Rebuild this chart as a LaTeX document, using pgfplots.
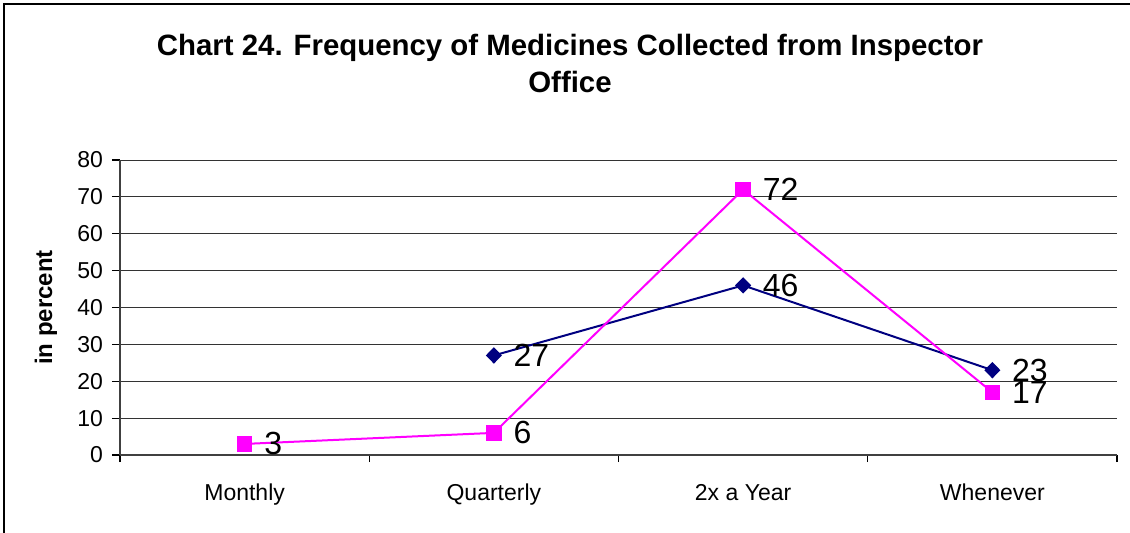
\documentclass[border=0pt]{standalone}
\usepackage{pgfplots}
\pgfplotsset{compat=1.18}
\usepackage{fontspec}
\setmainfont{Liberation Sans}
\definecolor{navyline}{HTML}{000080}
\definecolor{pinkline}{HTML}{FF00FF}

\begin{document}
\begin{tikzpicture}
\path[use as bounding box] (-60bp,-39bp) rectangle (505bp,227.5bp);
\draw[line width=0.9bp] (-58bp,-39bp) -- (-58bp,225.5bp) -- (505bp,225.5bp);
\begin{axis}[
  at={(0,0)}, anchor=south west,
  scale only axis, width=498.5bp, height=147.5bp,
  xmin=-0.5, xmax=3.5, ymin=0, ymax=80,
  axis x line*=bottom, axis y line*=left,
  axis line style={-, black!75, line width=0.6bp},
  xtick={0,1,2,3},
  xticklabels={Monthly,Quarterly,2x a Year,Whenever},
  major x tick style={draw=none},
  minor xtick={-0.5,0.5,1.5,2.5,3.5},
  minor x tick style={black, line width=0.6bp},
  minor tick length=3.5bp,
  ytick={0,10,...,80},
  major tick length=4bp,
  tick align=outside,
  y tick style={black, line width=0.6bp},
  ymajorgrids, grid style={black!80, line width=0.5bp},
  tick label style={font=\fontsize{11.5bp}{13bp}\selectfont},
  xticklabel style={yshift=-7bp},
  yticklabel style={xshift=-1bp},
  /pgf/number format/assume math mode=true,
  ylabel={\bfseries in percent},
  every axis y label/.style={at={(-37bp,73.75bp)}, rotate=90, anchor=center, font=\fontsize{12bp}{14bp}\selectfont},
  clip=false,
  nodes near coords,
  every node near coord/.style={anchor=west, xshift=6bp, text=black, font=\fontsize{16bp}{18bp}\selectfont, /pgf/number format/assume math mode=true},
]
\addplot[navyline, line width=1bp, mark=diamond*, mark size=3.4bp, mark options={xscale=1.3}]
  coordinates {(1,27)(2,46)(3,23)};
\addplot[pinkline, line width=1bp, mark=square*, mark size=3.4bp]
  coordinates {(0,3)(1,6)(2,72)(3,17)};
\end{axis}
\node[font=\bfseries\fontsize{14.7bp}{18.5bp}\selectfont, align=center, anchor=center] at (225bp,195.75bp)
  {Chart 24. Frequency of Medicines Collected from Inspector\\Office};
\end{tikzpicture}
\end{document}
